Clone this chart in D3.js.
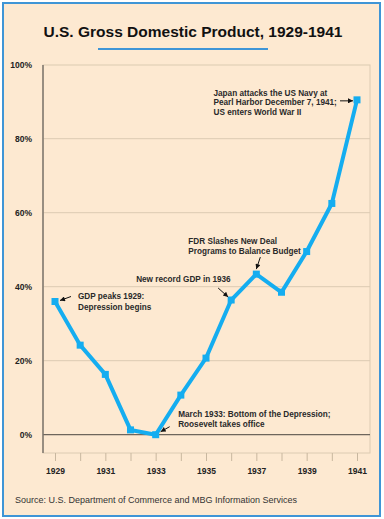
<!DOCTYPE html>
<html>
<head>
<meta charset="utf-8">
<script src="https://cdn.jsdelivr.net/npm/d3@7.9.0/dist/d3.min.js"></script>
<style>
  html, body { margin: 0; padding: 0; background: #fff; }
  svg { display: block; font-family: "Liberation Sans", Arial, sans-serif; }
</style>
</head>
<body>
<svg id="chart" width="384" height="519"></svg>
<script>
const years = [1929, 1930, 1931, 1932, 1933, 1934, 1935, 1936, 1937, 1938, 1939, 1940, 1941];
const gdp = [36.0, 24.2, 16.3, 1.3, 0, 10.7, 20.7, 36.4, 43.4, 38.5, 49.5, 62.5, 90.5];
const yTicks = [0, 20, 40, 60, 80, 100];
const labelYears = [1929, 1931, 1933, 1935, 1937, 1939, 1941];

const notes = [
  { year: 1929, lines: ['GDP peaks 1929:', 'Depression begins'], dx: 23, dy: -3, gap: 11, from: [16, -5], to: [5, -1] },
  { year: 1936, lines: ['New record GDP in 1936'], dx: -95, dy: -18.5, gap: 10, from: [-13, -12], to: [-3, -3] },
  { year: 1937, lines: ['FDR Slashes New Deal', 'Programs to Balance Budget'], dx: -68, dy: -30, gap: 10, from: [4, -17], to: [0, -5] },
  { year: 1941, lines: ['Japan attacks the US Navy at', 'Pearl Harbor December 7, 1941;', 'US enters World War II'], dx: -143.5, dy: -4, gap: 9.4, from: [-17, 1], to: [-4, 1] },
  { year: 1933, lines: ['March 1933: Bottom of the Depression;', 'Roosevelt takes office'], dx: 22.5, dy: -18, gap: 10, from: [14, -8], to: [5, -3] }
];

const svg = d3.select('#chart');

// card background and border
svg.append('rect')
  .attr('x', 3).attr('y', 3).attr('width', 377).attr('height', 513)
  .attr('fill', '#fde9d1').attr('stroke', '#3f95d6').attr('stroke-width', 2);

svg.append('text')
  .attr('x', 193).attr('y', 37)
  .attr('text-anchor', 'middle')
  .attr('font-size', 15.5).attr('font-weight', 'bold').attr('fill', '#111')
  .text('U.S. Gross Domestic Product, 1929-1941');

svg.append('line')
  .attr('x1', 98).attr('x2', 268).attr('y1', 49).attr('y2', 49)
  .attr('stroke', '#3f95d6').attr('stroke-width', 2);

const plotL = 43, plotR = 370, plotT = 65, plotB = 453;

const x = d3.scaleLinear().domain([1929, 1941]).range([55, 357]);
const y = d3.scaleLinear().domain([0, 100]).range([434.7, 64.7]);

// plot frame
svg.append('rect')
  .attr('x', plotL).attr('y', plotT).attr('width', plotR - plotL).attr('height', plotB - plotT)
  .attr('fill', 'none').attr('stroke', '#dccbb2').attr('stroke-width', 1);

// gridlines
svg.append('g').selectAll('line')
  .data(yTicks.filter(d => d > 0 && d < 100))
  .join('line')
  .attr('x1', plotL).attr('x2', plotR)
  .attr('y1', d => y(d)).attr('y2', d => y(d))
  .attr('stroke', '#dccbb2').attr('stroke-width', 1);

// zero line
svg.append('line')
  .attr('x1', plotL).attr('x2', plotR)
  .attr('y1', y(0)).attr('y2', y(0))
  .attr('stroke', '#6e665c').attr('stroke-width', 1.3);

// left axis line
svg.append('line')
  .attr('x1', plotL).attr('x2', plotL).attr('y1', plotT).attr('y2', plotB)
  .attr('stroke', '#7d756b').attr('stroke-width', 1.5);

// y labels
svg.append('g').selectAll('text')
  .data(yTicks)
  .join('text')
  .attr('x', 32).attr('y', d => y(d) + 3)
  .attr('text-anchor', 'end')
  .attr('font-size', 8.5).attr('font-weight', 'bold').attr('fill', '#222')
  .text(d => d + '%');

// x axis ticks and labels
const xAxis = d3.axisBottom(x)
  .tickValues(years)
  .tickSize(8)
  .tickFormat(d => labelYears.includes(d) ? d : '');

const gx = svg.append('g')
  .attr('transform', `translate(0,${plotB})`)
  .call(xAxis);
gx.select('.domain').remove();
gx.selectAll('.tick line').attr('stroke', '#c8b79f');
gx.selectAll('.tick text')
  .attr('y', 15)
  .attr('font-family', '"Liberation Sans", Arial, sans-serif')
  .attr('font-size', 8.5).attr('font-weight', 'bold').attr('fill', '#222');

// series line
const pts = years.map((yr, i) => ({ year: yr, value: gdp[i] }));
svg.append('path')
  .datum(pts)
  .attr('fill', 'none')
  .attr('stroke', '#14adf0')
  .attr('stroke-width', 4)
  .attr('stroke-linejoin', 'miter')
  .attr('d', d3.line().x(d => x(d.year)).y(d => y(d.value)));

svg.append('g').selectAll('rect')
  .data(pts)
  .join('rect')
  .attr('x', d => x(d.year) - 3.5).attr('y', d => y(d.value) - 3.5)
  .attr('width', 7).attr('height', 7)
  .attr('fill', '#14adf0');

// arrowhead
svg.append('defs').append('marker')
  .attr('id', 'arrow')
  .attr('viewBox', '0 0 10 10')
  .attr('refX', 10).attr('refY', 5)
  .attr('markerWidth', 7).attr('markerHeight', 5)
  .attr('markerUnits', 'userSpaceOnUse')
  .attr('orient', 'auto')
  .append('path').attr('d', 'M0,0L10,5L0,10Z').attr('fill', '#111');

// annotations
notes.forEach(n => {
  const px = x(n.year), py = y(gdp[years.indexOf(n.year)]);
  const t = svg.append('text')
    .attr('font-size', 8.2).attr('font-weight', 'bold').attr('fill', '#2a2a2a');
  n.lines.forEach((ln, i) => {
    t.append('tspan')
      .attr('x', px + n.dx)
      .attr('y', py + n.dy + i * n.gap)
      .text(ln);
  });
  svg.append('line')
    .attr('x1', px + n.from[0]).attr('y1', py + n.from[1])
    .attr('x2', px + n.to[0]).attr('y2', py + n.to[1])
    .attr('stroke', '#111').attr('stroke-width', 1)
    .attr('marker-end', 'url(#arrow)');
});

svg.append('text')
  .attr('x', 15).attr('y', 503)
  .attr('font-size', 9).attr('fill', '#333')
  .text('Source: U.S. Department of Commerce and MBG Information Services');
</script>
</body>
</html>
